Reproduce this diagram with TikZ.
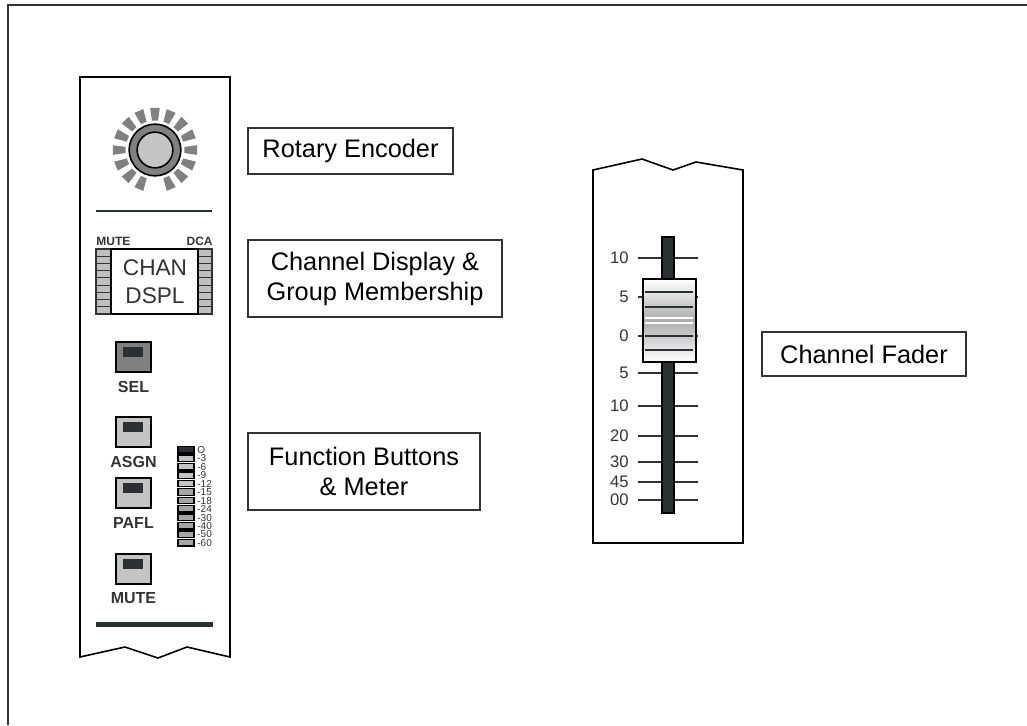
\documentclass[tikz,border=0pt]{standalone}
\usepackage{fontspec}
\setmainfont{Liberation Sans}
\usepackage{tikz}
\usetikzlibrary{positioning}

\definecolor{panelgray}{HTML}{808080}
\definecolor{keygray}{HTML}{C4C4C4}
\definecolor{slotdark}{HTML}{2B3133}
\definecolor{inkgray}{HTML}{333333}

\begin{document}
\begin{tikzpicture}[x=0.75pt,y=-0.75pt,semithick,
  callout/.style={draw=inkgray,line width=1.1pt,align=center,inner sep=0pt,
                  font=\fontsize{19}{22.5}\selectfont},
  keycap/.style={draw=black,line width=1.5pt},
  keylabel/.style={font=\fontsize{12}{14}\selectfont\bfseries,text=inkgray},
  tinylabel/.style={font=\fontsize{9}{10}\selectfont\bfseries,text=inkgray,inner sep=0pt},
  ledbar/.style={draw=black!80,line width=0.8pt,fill=gray!50},
  scalelbl/.style={font=\fontsize{12.5}{14}\selectfont,text=inkgray,anchor=east,inner sep=0pt},
  meterlbl/.style={font=\fontsize{7.5}{8}\selectfont,text=inkgray,anchor=west,inner sep=0pt}]

\useasboundingbox (0,0) rectangle (1027,725);
\draw[inkgray,line width=1.2pt] (1027,5) -- (8,5) -- (8,725);

% channel strip
\draw[line width=1.2pt] (80,77) -- (80,657) -- (125,647) -- (158,658) -- (187,647)
  -- (230,657) -- (230,77) -- cycle;

% rotary encoder with its led ring
\coordinate (enc) at (155,150);
\foreach \k in {1,...,15}
  \fill[panelgray,shift={(enc)}] ({90+22.5*\k-6}:29.5) -- ({90+22.5*\k+6}:29.5)
    -- ({90+22.5*\k+6.5}:42.5) -- ({90+22.5*\k-6.5}:42.5) -- cycle;
\draw[fill=panelgray,line width=1.2pt] (enc) circle[radius=19.4pt];
\draw[fill=keygray,line width=1.2pt] (enc) circle[radius=13.4pt];
\draw[slotdark,line width=2.2pt] (96,211) -- (212,211);

% channel display
\node[tinylabel,anchor=west] (mutetag) at (96,241) {MUTE};
\node[tinylabel,anchor=east] (dcatag) at (213,241) {DCA};
\foreach \j in {0,...,8} {
  \draw[ledbar] (96,{249+7.22*\j}) rectangle (111,{249+7.22*(\j+1)});
  \draw[ledbar] (198,{249+7.22*\j}) rectangle (212,{249+7.22*(\j+1)});
}
\draw[fill=white,line width=1.2pt] (111,249) rectangle (198,314);
\node[align=center,text=inkgray,font=\fontsize{17}{21}\selectfont] (chandspl) at (155,281.5) {CHAN\\DSPL};

% keys
\foreach \top/\c/\name in {342/panelgray/SEL, 417/keygray/ASGN, 478/keygray/PAFL, 554/keygray/MUTE} {
  \draw[keycap,fill=\c] (116,\top) rectangle (151,{\top+30});
  \fill[slotdark] (123,{\top+5}) rectangle (143,{\top+15});
  \node[keylabel] (key-\name) at (133.5,{\top+44.5}) {\name};
}

% meter
\foreach \lvl/\c [count=\i from 0] in {O/slotdark, -3/keygray, -6/keygray, -9/keygray, -12/keygray,
    -15/gray!70, -18/gray!70, -24/gray!70, -30/gray!70, -40/gray!70, -50/gray!70, -60/gray!70} {
  \draw[fill=\c,draw=black,line width=1pt] (178,{446.5+8.45*\i}) rectangle (194,{453+8.45*\i});
  \node[meterlbl] (lvl-\i) at (197,{450+8.45*\i}) {\lvl};
}
\draw[slotdark,line width=3.75pt] (96,624) -- (213,624);

% fader section
\draw[line width=1.2pt] (593,543) -- (593,170) -- (642,159) -- (673,170) -- (696,162)
  -- (743,170) -- (743,543) -- cycle;
\foreach \y/\v in {258/10, 297/5, 336/0, 373/5, 406/10, 436/20, 462/30, 482/45, 500/00} {
  \draw[inkgray,line width=1.5pt] (638,\y) -- (698,\y);
  \node[scalelbl] (mark-\y) at (629,\y) {\v};
}
\draw[fill=slotdark,line width=1pt] (662,237) rectangle (674,513);
\shade[top color=white,bottom color=white,middle color=gray!65] (643,279) rectangle (696,362);
\draw[line width=1.2pt] (643,279) rectangle (696,362);
\foreach \y in {292,307,336,350}
  \draw[slotdark,line width=1.2pt] (645,\y) -- (693,\y);
\foreach \y in {318,323}
  \draw[white,line width=1pt] (645,\y) -- (693,\y);

% callouts
\node[callout,minimum width=153.75pt,minimum height=34.5pt] (encoderlbl) at (350.5,151) {Rotary Encoder};
\node[callout,minimum width=190.5pt,minimum height=57.75pt] (displaylbl) at (375,278.5) {Channel Display \&\\Group Membership};
\node[callout,minimum width=174pt,minimum height=57.75pt] (buttonslbl) at (364,471.5) {Function Buttons\\\& Meter};
\node[callout,minimum width=153pt,minimum height=33pt] (faderlbl) at (864,354) {Channel Fader};

\end{tikzpicture}
\end{document}
